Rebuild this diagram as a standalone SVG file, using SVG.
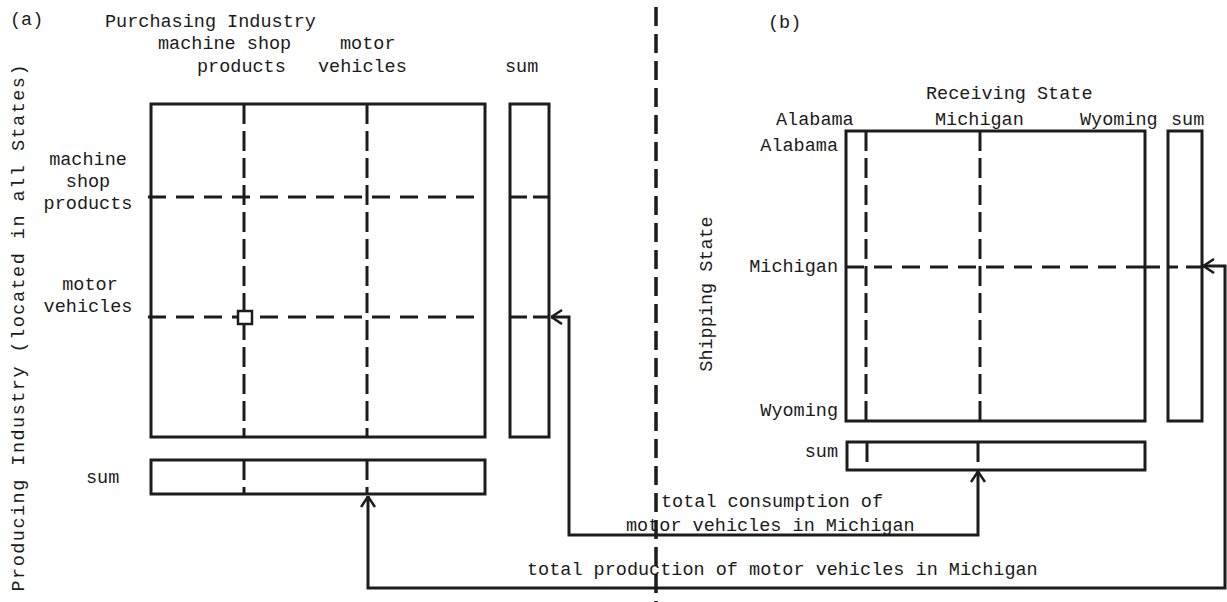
<svg xmlns="http://www.w3.org/2000/svg" width="1227" height="602" viewBox="0 0 1227 602">
<style>
text{font-family:"Liberation Mono","DejaVu Sans Mono",monospace;font-size:18.5px;fill:#1a1a1a}
.box{fill:none;stroke:#1c1c1c;stroke-width:3}
.dv{fill:none;stroke:#1c1c1c;stroke-width:3;stroke-dasharray:20 7}
.dh{fill:none;stroke:#1c1c1c;stroke-width:3;stroke-dasharray:18 10}
.conn{fill:none;stroke:#1c1c1c;stroke-width:3;marker-start:url(#chev);marker-end:url(#chev)}
.mid{text-anchor:middle}
.end{text-anchor:end}
</style>
<defs>
<marker id="chev" viewBox="0 0 12 16" refX="12" refY="8" markerWidth="12" markerHeight="16" markerUnits="userSpaceOnUse" orient="auto-start-reverse">
<path d="M1,1 L11.5,8 L1,15" fill="none" stroke="#1c1c1c" stroke-width="2.5"/>
</marker>
</defs>
<rect width="1227" height="602" fill="#fff"/>

<g id="divider"><line x1="656" y1="7" x2="656" y2="602" stroke="#1c1c1c" stroke-width="3.5" stroke-dasharray="19 8"/></g>

<g id="panel-a-labels">
<text x="10" y="25">(a)</text>
<text x="105" y="27">Purchasing Industry</text>
<text x="158" y="49">machine shop</text>
<text x="340" y="49">motor</text>
<text x="197" y="72">products</text>
<text x="318" y="72">vehicles</text>
<text x="505" y="72">sum</text>
<text class="mid" x="88" y="165">machine</text>
<text class="mid" x="88" y="187">shop</text>
<text class="mid" x="88" y="209">products</text>
<text class="mid" x="90" y="290">motor</text>
<text class="mid" x="88" y="312">vehicles</text>
<text x="86" y="483">sum</text>
<text class="mid" transform="translate(24 328) rotate(-90)" textLength="527" lengthAdjust="spacing">Producing Industry (located in all States)</text>
</g>

<g id="matrix-a">
<rect class="box" x="151" y="104" width="334" height="333"/>
<line class="dv" x1="244" y1="104" x2="244" y2="437"/>
<line class="dv" x1="367" y1="104" x2="367" y2="437"/>
<line class="dh" x1="148" y1="197" x2="485" y2="197"/>
<line class="dh" x1="148" y1="317" x2="485" y2="317"/>
<rect x="238" y="311" width="14" height="13" fill="#fff" stroke="#1c1c1c" stroke-width="2.5"/>
</g>

<g id="sum-col-a">
<rect class="box" x="510" y="104" width="39" height="333"/>
<line class="box" x1="510" y1="197" x2="527" y2="197"/>
<line class="box" x1="533" y1="197" x2="549" y2="197"/>
<line class="box" x1="510" y1="317" x2="527" y2="317"/>
<line class="box" x1="533" y1="317" x2="549" y2="317"/>
</g>

<g id="sum-row-a">
<rect class="box" x="151" y="460" width="334" height="34"/>
<line class="dv" x1="244" y1="460" x2="244" y2="494"/>
<line class="dv" x1="367" y1="460" x2="367" y2="494"/>
</g>

<g id="panel-b-labels">
<text x="768" y="28">(b)</text>
<text x="926" y="99">Receiving State</text>
<text x="776" y="125">Alabama</text>
<text x="935" y="125">Michigan</text>
<text x="1080" y="125">Wyoming</text>
<text x="1171" y="125">sum</text>
<text class="end" x="838" y="151">Alabama</text>
<text class="end" x="838" y="272">Michigan</text>
<text class="end" x="838" y="416">Wyoming</text>
<text class="end" x="838" y="457">sum</text>
<text class="mid" transform="translate(712 294) rotate(-90)">Shipping State</text>
</g>

<g id="matrix-b">
<rect class="box" x="846" y="131" width="299" height="290"/>
<line class="dv" x1="866" y1="131" x2="866" y2="421"/>
<line class="dv" x1="980" y1="131" x2="980" y2="421"/>
<line class="dh" x1="846" y1="267" x2="1145" y2="267"/>
</g>

<g id="sum-col-b">
<rect class="box" x="1168" y="131" width="34" height="290"/>
<line class="box" x1="1145" y1="267" x2="1160" y2="267"/>
<line class="box" x1="1168" y1="267" x2="1178" y2="267"/>
<line class="box" x1="1186" y1="267" x2="1202" y2="267"/>
</g>

<g id="sum-row-b">
<rect class="box" x="847" y="442" width="298" height="28"/>
<line class="dv" x1="867" y1="442" x2="867" y2="470"/>
<line class="dv" x1="978" y1="442" x2="978" y2="470"/>
</g>

<g id="connectors">
<path class="conn" d="M551,317 H569 V535 H978 V471"/>
<path class="conn" d="M1203,266 H1225 V588 H368 V496"/>
</g>

<g id="connector-labels">
<text x="661" y="507">total consumption of</text>
<text x="626" y="531">motor vehicles in Michigan</text>
<text x="527" y="575">total production of motor vehicles in Michigan</text>
</g>
</svg>
